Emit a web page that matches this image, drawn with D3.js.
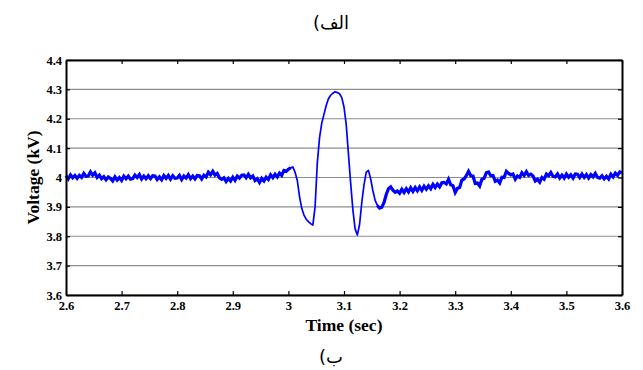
<!DOCTYPE html>
<html>
<head>
<meta charset="utf-8">
<script src="https://cdn.jsdelivr.net/npm/d3@7"></script>
<style>
  body { margin: 0; background: #fff; }
  svg { display: block; }
</style>
</head>
<body>
<svg id="chart" width="643" height="370"></svg>
<script>
// tick labels
const xTicks = [2.6, 2.7, 2.8, 2.9, 3.0, 3.1, 3.2, 3.3, 3.4, 3.5, 3.6]
const yTicks = [3.6, 3.7, 3.8, 3.9, 4.0, 4.1, 4.2, 4.3, 4.4]

// sampling of the recorded voltage (sec)
const SAMPLE_START = 2.6
const SAMPLE_STEP = 0.004

// voltage (kV), one value every 4 ms
const voltage = [
  4.006, 3.995, 4.009, 3.999, 4.007, 3.997, 4.007, 4.000, 4.014, 4.004,
  4.005, 4.019, 4.008, 4.016, 4.000, 4.008, 3.996, 4.003, 3.992, 4.002,
  3.997, 3.988, 4.002, 3.991, 4.000, 3.990, 4.005, 3.996, 4.005, 3.994,
  3.996, 4.008, 4.000, 4.010, 3.995, 4.005, 3.996, 4.006, 3.996, 4.006,
  4.005, 3.993, 4.002, 3.992, 4.007, 3.997, 4.007, 3.994, 4.006, 3.997,
  3.998, 4.007, 3.993, 4.005, 3.998, 4.010, 3.996, 4.005, 3.995, 4.007,
  4.006, 3.995, 4.008, 4.002, 4.018, 4.009, 4.021, 4.008, 4.014, 3.999,
  3.994, 3.999, 3.986, 3.997, 3.988, 4.001, 3.990, 4.005, 3.998, 4.008,
  4.009, 3.999, 4.011, 3.999, 4.005, 3.990, 3.996, 3.983, 3.997, 3.988,
  4.001, 3.993, 4.009, 3.999, 4.011, 4.002, 4.015, 4.007, 4.024, 4.021,
  4.028, 4.033, 4.036, 4.018, 3.990, 3.935, 3.895, 3.872, 3.858, 3.850,
  3.843, 3.838, 3.900, 4.050, 4.135, 4.185, 4.215, 4.245, 4.268, 4.280,
  4.287, 4.292, 4.289, 4.285, 4.272, 4.240, 4.180, 4.080, 3.980, 3.890,
  3.825, 3.804, 3.840, 3.915, 3.975, 4.018, 4.024, 3.995, 3.955, 3.922,
  3.905, 3.896, 3.899, 3.915, 3.942, 3.962, 3.968, 3.957, 3.950, 3.954,
  3.946, 3.960, 3.949, 3.962, 3.951, 3.965, 3.953, 3.966, 3.955, 3.968,
  3.956, 3.970, 3.960, 3.972, 3.962, 3.977, 3.966, 3.978, 3.968, 3.982,
  3.983, 3.978, 3.994, 3.975, 3.972, 3.949, 3.963, 3.966, 3.991, 3.995,
  4.006, 4.021, 4.006, 4.005, 3.980, 3.981, 3.971, 3.994, 3.997, 4.016,
  4.019, 4.006, 4.007, 3.987, 3.991, 3.981, 4.001, 4.000, 4.021, 4.014,
  4.009, 4.012, 3.994, 4.005, 4.000, 4.016, 4.007, 4.020, 4.007, 4.011,
  4.005, 3.988, 3.994, 3.984, 4.000, 3.994, 4.012, 4.006, 4.017, 4.004,
  4.002, 4.012, 3.998, 4.008, 3.998, 4.012, 4.001, 4.009, 3.998, 4.012,
  4.011, 4.000, 4.012, 4.000, 4.010, 3.998, 4.010, 4.002, 4.014, 4.000,
  3.998, 4.006, 3.995, 4.004, 3.995, 4.011, 4.002, 4.015, 4.007, 4.019,
  4.016
]

// sample index ranges where the trace is a noisy band (drawn thicker)
const noisyRanges = [[0, 101], [140, 250]]

const TOP_CAPTION = "الف)"
const BOTTOM_CAPTION = "ب)"

const margin = {top: 60, right: 21, bottom: 75, left: 66}
const width = 643, height = 370

const svg = d3.select("#chart")

const x = d3.scaleLinear().domain([2.6, 3.6]).range([margin.left, width - margin.right])
const y = d3.scaleLinear().domain([3.6, 4.4]).range([height - margin.bottom, margin.top])

const fmt = d => d3.format("~g")(+d.toFixed(1))

//Horizontal grid lines
svg.append("g")
  .selectAll("line")
  .data(yTicks)
  .join("line")
    .attr("x1", x.range()[0])
    .attr("x2", x.range()[1])
    .attr("y1", d => y(d))
    .attr("y2", d => y(d))
    .attr("stroke", "#8c8c8c")
    .attr("stroke-width", 1.2)

//Voltage trace
const samples = voltage.map((v, i) => ({t: SAMPLE_START + i * SAMPLE_STEP, v: v, i: i}))

const line = d3.line()
  .x(d => x(d.t))
  .y(d => y(d.v))

svg.append("path")
  .datum(samples)
  .attr("fill", "none")
  .attr("stroke", "#0000ff")
  .attr("stroke-width", 1.7)
  .attr("stroke-linejoin", "round")
  .attr("d", line)

svg.append("g")
  .selectAll("path")
  .data(noisyRanges)
  .join("path")
    .attr("fill", "none")
    .attr("stroke", "#0000ff")
    .attr("stroke-width", 3.2)
    .attr("stroke-linejoin", "miter")
    .attr("d", r => line(samples.filter(s => s.i >= r[0] && s.i <= r[1])))

//Axes with inward ticks
const tickFont = g => g
  .style("font-family", "'Liberation Serif', 'Times New Roman', serif")
  .style("font-weight", "bold")
  .style("font-size", "12.5px")

const bottomAxis = svg.append("g")
  .attr("transform", `translate(0,${y.range()[0]})`)
  .call(d3.axisBottom(x).tickValues(xTicks).tickFormat(fmt).tickSizeInner(-4).tickSizeOuter(0).tickPadding(6))
  .call(tickFont)

const topAxis = svg.append("g")
  .attr("transform", `translate(0,${y.range()[1]})`)
  .call(d3.axisTop(x).tickValues(xTicks).tickFormat("").tickSizeInner(-4).tickSizeOuter(0))

const leftAxis = svg.append("g")
  .attr("transform", `translate(${x.range()[0]},0)`)
  .call(d3.axisLeft(y).tickValues(yTicks).tickFormat(fmt).tickSizeInner(-4).tickSizeOuter(0).tickPadding(4))
  .call(tickFont)

const rightAxis = svg.append("g")
  .attr("transform", `translate(${x.range()[1]},0)`)
  .call(d3.axisRight(y).tickValues(yTicks).tickFormat("").tickSizeInner(-4).tickSizeOuter(0))

;[bottomAxis, topAxis, leftAxis, rightAxis].forEach(g => {
  g.select(".domain").attr("stroke", "#000").attr("stroke-width", 2)
  g.selectAll(".tick line").attr("stroke", "#000").attr("stroke-width", 1.2)
  g.selectAll(".tick text").attr("fill", "#000")
})

//Axis titles
const titleFont = sel => sel
  .style("font-family", "'Liberation Serif', 'Times New Roman', serif")
  .style("font-weight", "bold")
  .style("font-size", "17.5px")
  .attr("fill", "#000")
  .attr("text-anchor", "middle")

svg.append("text")
  .attr("x", (x.range()[0] + x.range()[1]) / 2)
  .attr("y", 331)
  .text("Time (sec)")
  .call(titleFont)

svg.append("text")
  .attr("transform", `translate(39,${(y.range()[0] + y.range()[1]) / 2}) rotate(-90)`)
  .text("Voltage (kV)")
  .call(titleFont)

//Captions (Persian, right-to-left: the parenthesis sits on the left)
const captionFont = sel => sel
  .style("font-family", "'DejaVu Sans', 'Noto Sans', sans-serif")
  .style("font-size", "18px")
  .style("direction", "rtl")
  .attr("fill", "#000")
  .attr("text-anchor", "middle")

svg.append("text")
  .attr("x", 331)
  .attr("y", 29)
  .text(TOP_CAPTION)
  .call(captionFont)

svg.append("text")
  .attr("x", 331)
  .attr("y", 363)
  .text(BOTTOM_CAPTION)
  .call(captionFont)
</script>
</body>
</html>
